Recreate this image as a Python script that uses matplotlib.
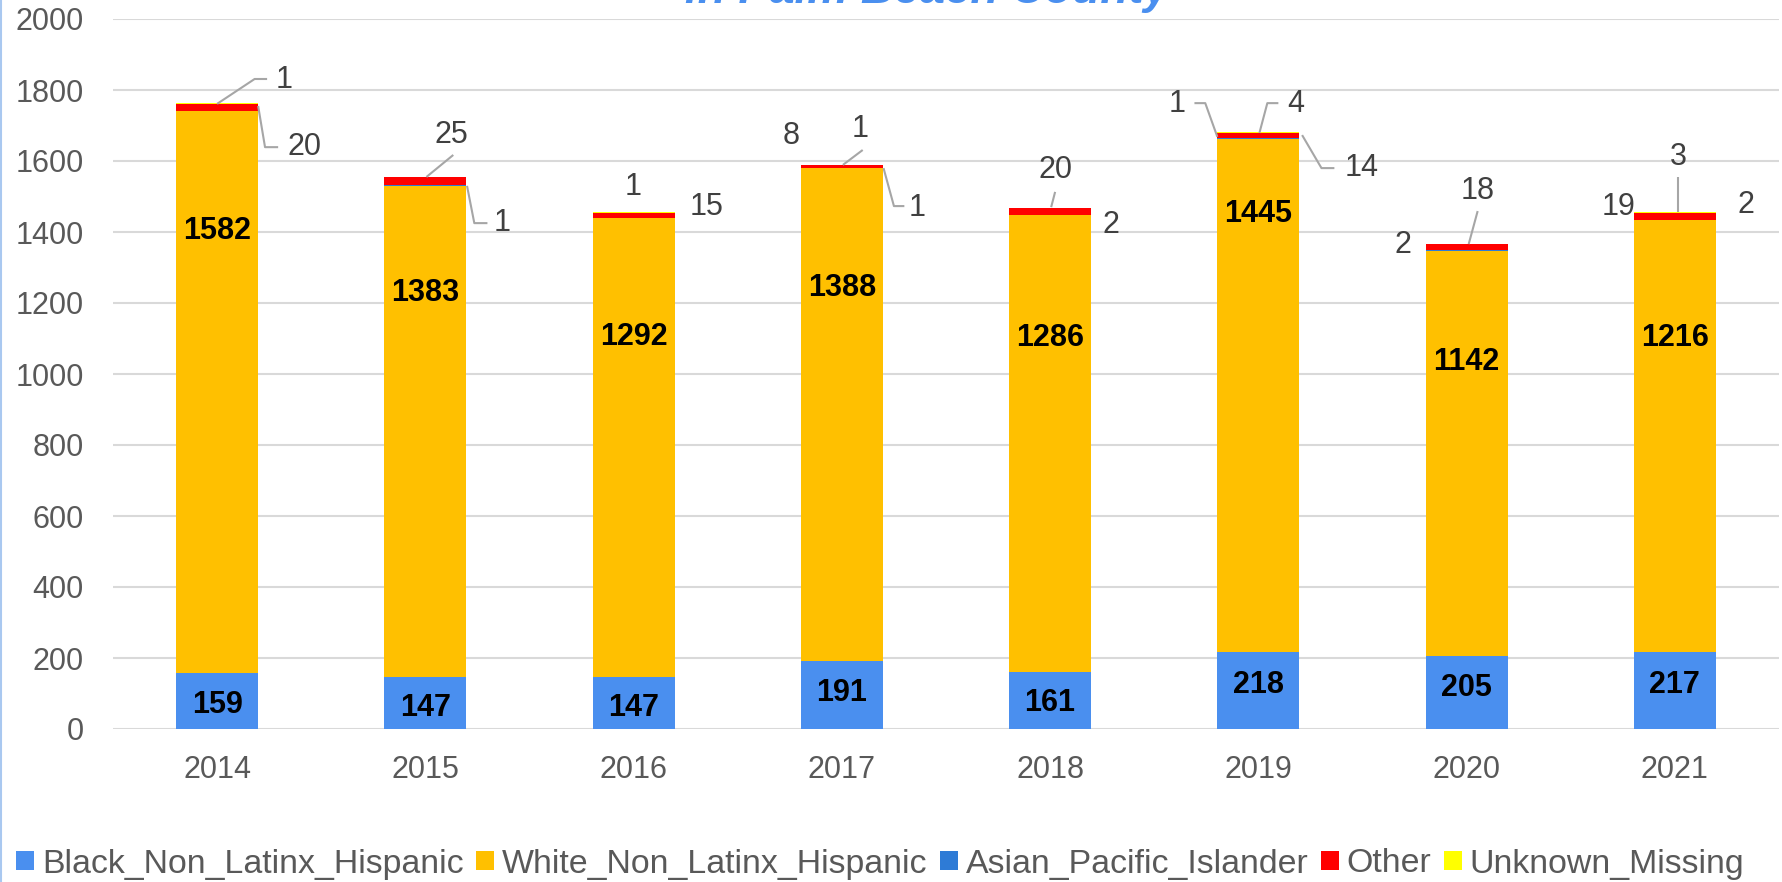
import matplotlib
matplotlib.use("Agg")
import matplotlib.pyplot as plt
from matplotlib.patches import Patch
from matplotlib.lines import Line2D
import numpy as np

plt.rcParams['font.family'] = ['Liberation Sans', 'DejaVu Sans']

## datos
years = ['2014', '2015', '2016', '2017', '2018', '2019', '2020', '2021']
black = [159, 147, 147, 191, 161, 218, 205, 217]
white = [1582, 1383, 1292, 1388, 1286, 1445, 1142, 1216]
asian = [0, 1, 0, 1, 2, 1, 2, 2]
other = [20, 25, 15, 8, 20, 14, 18, 19]
unknown = [1, 0, 1, 1, 0, 4, 0, 3]

series_names = ['Black_Non_Latinx_Hispanic', 'White_Non_Latinx_Hispanic',
                'Asian_Pacific_Islander', 'Other', 'Unknown_Missing']
colors = ['#4A8FEF', '#FFC000', '#2E7BD6', '#FF0000', '#FFFF00']

## posiciones de etiquetas (y en unidades de datos)
black_label_y = [68, 59, 59, 101, 73, 124, 115, 124]
white_label_y = [1403, 1228, 1105, 1243, 1102, 1451, 1035, 1102]

# (indice del año, texto, dx, y, puntos de la guía [(dx, y), ...])
small_labels = [
    (0, '1', 0.32, 1828, [(0.0, 1761), (0.18, 1831), (0.24, 1831)]),
    (0, '20', 0.42, 1639, [(0.197, 1755), (0.23, 1639), (0.293, 1639)]),
    (1, '25', 0.125, 1673, [(0.005, 1555), (0.134, 1617)]),
    (1, '1', 0.37, 1425, [(0.2, 1530), (0.235, 1425), (0.298, 1425)]),
    (2, '1', 0.0, 1527, []),
    (2, '15', 0.35, 1470, []),
    (3, '8', -0.245, 1670, []),
    (3, '1', 0.09, 1690, [(0.005, 1589), (0.1, 1631)]),
    (3, '1', 0.36, 1468, [(0.2, 1580), (0.25, 1473), (0.3, 1473)]),
    (4, '20', 0.024, 1575, [(0.005, 1470), (0.024, 1513)]),
    (4, '2', 0.29, 1420, []),
    (5, '1', -0.39, 1761, [(-0.307, 1763), (-0.255, 1763), (-0.197, 1668)]),
    (5, '4', 0.18, 1761, [(0.005, 1679), (0.043, 1763), (0.096, 1763)]),
    (5, '14', 0.495, 1580, [(0.21, 1673), (0.303, 1580), (0.365, 1580)]),
    (6, '2', -0.307, 1363, []),
    (6, '18', 0.053, 1515, [(0.01, 1366), (0.053, 1459)]),
    (7, '19', -0.27, 1470, []),
    (7, '3', 0.017, 1611, [(0.017, 1456), (0.017, 1555)]),
    (7, '2', 0.343, 1476, []),
]

fig = plt.figure(figsize=(17.83, 8.82), dpi=100)
ax = fig.add_axes([113 / 1783, 1 - 729 / 882, 1666 / 1783, 710 / 882])

x = np.arange(len(years))
width = 0.394
stack = [black, white, asian, other, unknown]
bottom = np.zeros(len(years))
for vals, col, name in zip(stack, colors, series_names):
    ax.bar(x, vals, width, bottom=bottom, color=col, label=name, zorder=3)
    bottom += np.array(vals)

## etiquetas en negrita
for i in range(len(years)):
    ax.text(x[i], black_label_y[i], str(black[i]), ha='center', va='center',
            fontsize=22, fontweight='bold', color='black', zorder=5)
    ax.text(x[i], white_label_y[i], str(white[i]), ha='center', va='center',
            fontsize=22, fontweight='bold', color='black', zorder=5)

## etiquetas pequeñas con guías
for i, txt, dx, y, pts in small_labels:
    if pts:
        ax.plot([x[i] + p[0] for p in pts], [p[1] for p in pts],
                color='#A6A6A6', lw=1.5, zorder=4, solid_capstyle='butt')
    ax.text(x[i] + dx, y, txt, ha='center', va='center', fontsize=22,
            color='#404040', zorder=5)

ax.set_xlim(-0.5, 7.5)
ax.set_ylim(0, 2000)
ax.set_yticks(range(0, 2001, 200))
ax.set_xticks(x)
ax.set_xticklabels(years)
ax.tick_params(axis='both', length=0, labelsize=22, labelcolor='#595959')
ax.tick_params(axis='x', pad=19)
ax.tick_params(axis='y', pad=21)
for s in ax.spines.values():
    s.set_visible(False)
ax.grid(axis='y', color='#D9D9D9', lw=1.5, zorder=0)
ax.set_axisbelow(True)

## titulo recortado arriba (como en la imagen original)
fig.text(927 / 1783, 1 - 3 / 882, 'in Palm Beach County', ha='center',
         va='baseline', fontsize=33, fontweight='bold', fontstyle='italic',
         color='#4A8FEF')

## leyenda
handles = [Patch(facecolor=c, edgecolor='none') for c in colors]
fig.legend(handles, series_names, loc='center left',
           bbox_to_anchor=(16 / 1783, 1 - 864 / 882), bbox_transform=fig.transFigure,
           ncol=5, frameon=False, fontsize=24.4, handlelength=0.53, handleheight=0.53,
           handletextpad=0.23, columnspacing=0.37, borderpad=0, borderaxespad=0,
           labelcolor='#595959')

## borde izquierdo
fig.add_artist(Line2D([0.0008, 0.0008], [0.0, 1.0], transform=fig.transFigure,
                      color='#A9C8F0', lw=1.5))

fig.savefig('out.png', dpi=100)
